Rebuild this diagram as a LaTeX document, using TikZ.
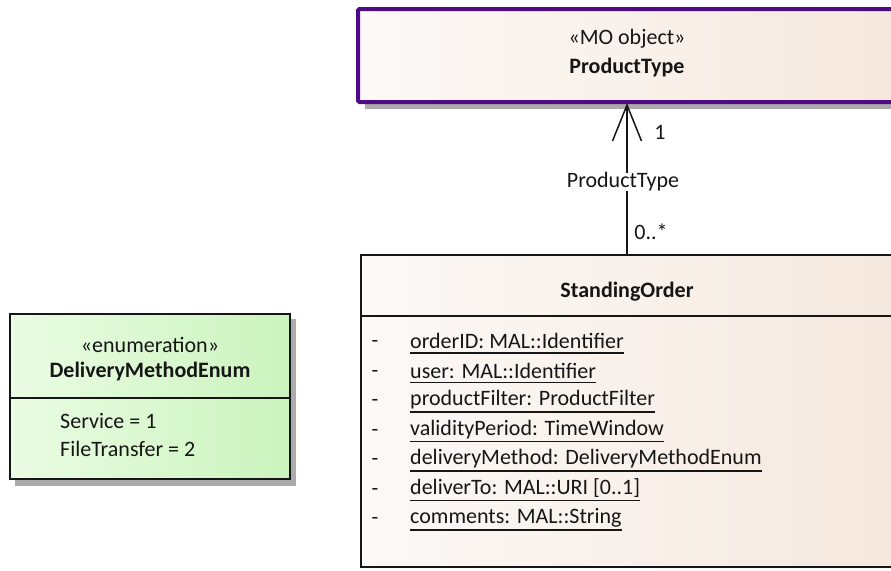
\documentclass[tikz,border=0pt]{standalone}
\usepackage{fontspec}
\setmainfont{Carlito}
\usetikzlibrary{arrows.meta}
\definecolor{moline}{HTML}{4F0A86}
\definecolor{beigeL}{HTML}{FCF9F7}
\definecolor{beigeR}{HTML}{F5E8DE}
\definecolor{greenL}{HTML}{EAFCE4}
\definecolor{greenR}{HTML}{CBF4BD}
\definecolor{shadowgray}{HTML}{ABABAB}
\definecolor{ink}{HTML}{161616}
\tikzset{
  txt/.style={font=\fontsize{22}{26}\selectfont, text=ink, inner sep=0pt},
  boldtxt/.style={txt, font=\fontsize{22}{26}\selectfont\bfseries},
  attr/.style={txt, anchor=west},
  dashmark/.style={txt, anchor=center},
  uline/.style={line width=1.6pt, ink},
  classbox/.style={draw=ink, line width=2.6pt, left color=beigeL, right color=beigeR, shading angle=90},
}
% underlined attribute line: #1 = y, #2 = name, #3 = text
\newcommand{\attrline}[3]{%
  \node[dashmark] (d#2) at (375,#1+3) {-};
  \node[attr] (#2) at (410,#1) {#3};
  \draw[uline] ([yshift=-12pt]#2.west |- 0,#1) -- ([yshift=-12pt]#2.east |- 0,#1);
}
\begin{document}
\begin{tikzpicture}[x=1pt,y=-1pt]
\useasboundingbox (0,0) rectangle (891,570);
\clip (0,0) rectangle (891,570);

% ---- MO object ProductType ----
\fill[shadowgray] (365,16) rectangle (900,109);
\node[draw=moline, line width=4pt, rounded corners=1.5pt,
      left color=beigeL, right color=beigeR, shading angle=90,
      minimum width=537pt, minimum height=93pt, inner sep=0pt] (pt) at (626.5,55.5) {};
\node[txt] (ptst) at (627,39) {«MO object»};
\node[boldtxt] (ptname) at (627,68) {ProductType};

% ---- StandingOrder ----
\node[classbox, minimum width=540pt, minimum height=312pt, inner sep=0pt] (so) at (631,411) {};
\coordinate (sosepL) at (361,316);
\draw[ink, line width=2.4pt] (sosepL) -- (sosepL -| so.east);
\node[boldtxt] (soname) at (627,292) {StandingOrder};

\attrline{341}{a1}{orderID: MAL::Identifier}
\attrline{370.5}{a2}{user: MAL::Identifier}
\attrline{400}{a3}{productFilter: ProductFilter}
\attrline{429.5}{a4}{validityPeriod: TimeWindow}
\attrline{459}{a5}{deliveryMethod: DeliveryMethodEnum}
\attrline{488.5}{a6}{deliverTo: MAL::URI [0..1]}
\attrline{518}{a7}{comments: MAL::String}

% ---- association ----
\coordinate (cbot) at (627,255);
\coordinate (ctop) at (627,103);
\draw[ink, line width=1.5pt, -{Straight Barb[length=36pt,width=29pt,line width=1.5pt]}]
  (cbot) -- node[pos=0.48, fill=white, inner sep=3pt, txt, xshift=-4pt] (assoc) {ProductType} (ctop);
\node[txt] (m1) at (660,132) {1};
\node[txt] (m2) at (651,232) {0..*};

% ---- enumeration ----
\fill[shadowgray] (15,319) rectangle (296,486);
\node[draw=ink, line width=2.6pt, left color=greenL, right color=greenR, shading angle=90,
      minimum width=280pt, minimum height=165pt, inner sep=0pt] (en) at (150,396.5) {};
\draw[ink, line width=2pt] (en.west |- 0,398) -- (en.east |- 0,398);
\node[txt] (enst) at (150,345) {«enumeration»};
\node[boldtxt] (enname) at (150,372) {DeliveryMethodEnum};
\node[attr] (lit1) at (60,421) {Service = 1};
\node[attr] (lit2) at (60,449) {FileTransfer = 2};
\end{tikzpicture}
\end{document}
